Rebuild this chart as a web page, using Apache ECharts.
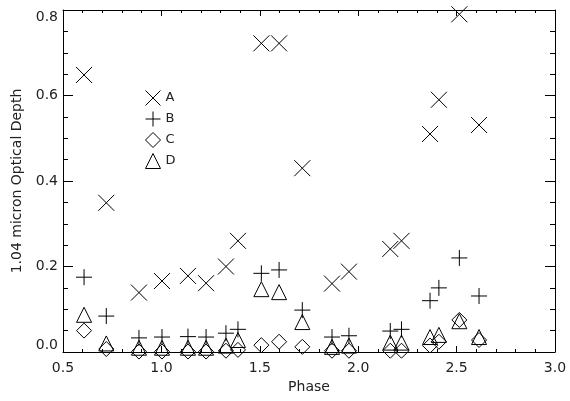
<!DOCTYPE html>
<html>
<head>
<meta charset="utf-8">
<script src="https://cdn.jsdelivr.net/npm/echarts@6/dist/echarts.min.js"></script>
<style>html,body{margin:0;padding:0;background:#fff;}#c{width:570px;height:401px;}</style>
</head>
<body>
<div id="c"></div>
<script>
const phase = [0.607, 0.72, 0.886, 1.003, 1.135, 1.227, 1.328, 1.389, 1.508, 1.598, 1.716, 1.867, 1.953, 2.163, 2.22, 2.365, 2.41, 2.514, 2.614];
const seriesA = [0.648, 0.349, 0.139, 0.166, 0.178, 0.161, 0.200, 0.260, 0.722, 0.722, 0.430, 0.160, 0.188, 0.241, 0.260, 0.510, 0.590, 0.790, 0.531];
const seriesB = [0.175, 0.084, 0.033, 0.035, 0.036, 0.035, 0.044, 0.053, 0.184, 0.192, 0.098, 0.035, 0.038, 0.049, 0.053, 0.120, 0.150, 0.220, 0.131];
const seriesC = [0.050, 0.007, 0.001, 0.001, 0.001, 0.001, 0.003, 0.005, 0.016, 0.024, 0.012, 0.003, 0.003, 0.003, 0.003, 0.015, 0.024, 0.075, 0.028];
const seriesD = [0.087, 0.020, 0.010, 0.010, 0.010, 0.010, 0.015, 0.028, 0.147, 0.140, 0.070, 0.012, 0.015, 0.022, 0.022, 0.035, 0.040, 0.072, 0.035];
const names = ['A', 'B', 'C', 'D'];
const xTitle = 'Phase';
const yTitle = '1.04 micron Optical Depth';
const xTickLabels = ['0.5', '1.0', '1.5', '2.0', '2.5', '3.0'];
const yTickLabels = ['0.0', '0.2', '0.4', '0.6', '0.8'];

const xTicks = xTickLabels.map(Number);
const yTicks = yTickLabels.map(Number);
const xRange = [xTicks[0], xTicks[xTicks.length - 1]];
const yRange = [yTicks[0], yTicks[yTicks.length - 1]];
const xMajor = xTicks[1] - xTicks[0];
const yMajor = yTicks[1] - yTicks[0];

const FONT = 'DejaVu Sans';
const TXT = '#222';
const symbols = {
  A: 'path://M0,0L1,1M1,0L0,1',
  B: 'path://M0.5,0L0.5,1M0,0.5L1,0.5',
  C: 'diamond',
  D: 'triangle'
};
const sizes = { A: 16, B: 16, C: 15, D: 15 };
const values = { A: seriesA, B: seriesB, C: seriesC, D: seriesD };

function pairs(v) { return phase.map((p, i) => [p, v[i]]); }

const labelStyle = { fontFamily: FONT, fontSize: 14, color: TXT };
const blackLine = { color: '#000', width: 1 };

function axisBase(range, position, interval, len, minorSplit, minorLen) {
  return {
    type: 'value', position: position, min: range[0], max: range[1], interval: interval,
    axisLine: { show: true, onZero: false, lineStyle: blackLine },
    axisTick: { show: true, inside: true, length: len, lineStyle: blackLine },
    minorTick: { show: true, splitNumber: minorSplit, length: minorLen, lineStyle: blackLine },
    splitLine: { show: false },
    axisLabel: { show: false }
  };
}

const xBottom = axisBase(xRange, 'bottom', xMajor, 6, 5, 3);
xBottom.axisLabel = Object.assign({ show: true, formatter: v => xTickLabels[Math.round((v - xRange[0]) / xMajor)], margin: 9 }, labelStyle);
xBottom.name = xTitle; xBottom.nameLocation = 'middle'; xBottom.nameGap = 27; xBottom.nameTextStyle = labelStyle;
const xTop = axisBase(xRange, 'top', xMajor, 6, 5, 3);
const yLeft = axisBase(yRange, 'left', yMajor, 10, 4, 5);
yLeft.axisLabel = Object.assign({ show: true, formatter: v => yTickLabels[Math.round((v - yRange[0]) / yMajor)], margin: 5,
  verticalAlignMinLabel: 'bottom', verticalAlignMaxLabel: 'top' }, labelStyle);
yLeft.name = yTitle; yLeft.nameLocation = 'middle'; yLeft.nameGap = 36; yLeft.nameTextStyle = labelStyle;
const yRight = axisBase(yRange, 'right', yMajor, 10, 4, 5);

const chart = echarts.init(document.getElementById('c'), null, { renderer: 'canvas' });
chart.setOption({
  animation: false,
  backgroundColor: '#fff',
  grid: { left: 63, right: 15, top: 10, bottom: 49, containLabel: false },
  textStyle: { fontFamily: FONT },
  legend: {
    data: names,
    orient: 'vertical',
    left: 138,
    top: 83,
    itemWidth: 15,
    itemHeight: 15,
    itemGap: 1,
    selectedMode: false,
    textStyle: { fontFamily: FONT, fontSize: 13, color: TXT },
    itemStyle: { color: 'none', borderColor: '#000', borderWidth: 1 }
  },
  xAxis: [xBottom, xTop],
  yAxis: [yLeft, yRight],
  series: names.map(n => ({
    name: n,
    type: 'scatter',
    xAxisIndex: 0,
    yAxisIndex: 0,
    symbol: symbols[n],
    symbolSize: sizes[n],
    clip: true,
    data: pairs(values[n]),
    itemStyle: { color: 'none', borderColor: '#000', borderWidth: 1, opacity: 1 },
    emphasis: { disabled: true },
    silent: true
  }))
});
</script>
</body>
</html>
